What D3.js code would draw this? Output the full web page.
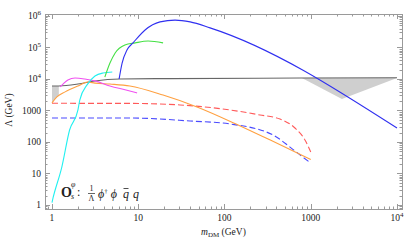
<!DOCTYPE html>
<html>
<head>
<meta charset="utf-8">
<script src="https://d3js.org/d3.v7.min.js"></script>
<style>
  body { margin: 0; background: #fff; }
  text { font-family: "Liberation Serif", "DejaVu Serif", serif; fill: #222; }
</style>
</head>
<body>
<div id="chart"></div>
<script>
// curves, [m_DM (GeV), Lambda (GeV)]
var blueSolid = [[6.0,1.0e4],[6.5,3.2e4],[7.4,8.3e4],[8.7,1.4e5],[12,3.6e5],[17.9,6.5e5],[26.7,7.4e5],[40,6.5e5],[68,4.2e5],[10000,277]];
var greenLine = [[4.1,1.15e4],[4.7,3.2e4],[5.4,6.7e4],[7.0,1.2e5],[9.2,1.4e5],[13,1.6e5],[19.4,1.4e5]];
var cyanLine = [[1.0,1.2],[1.03,1.7],[1.3,16],[1.6,240],[2.0,1040],[2.1,2150],[2.55,6500],[3.15,1.25e4],[3.9,1.55e4],[5.0,1.66e4]];
var magentaLine = [[1.24,5600],[1.34,6900],[1.53,9300],[1.85,1.07e4],[2.4,1.0e4],[3.15,8700],[4.7,6000],[7.4,4400],[9.7,3600]];
var orangeLine = [[1.0,1740],[1.14,2700],[1.42,3900],[2.0,6000],[2.6,8000],[3.15,7400],[4.7,6900],[8.0,6000],[19.4,3100],[48,1300],[150,330],[340,115],[1000,28]];
var redDashed = [[1,1690],[8,1680],[30.5,1500],[116,1040],[258,720],[440,537],[656,278],[857,116],[1000,48]];
var blueDashed = [[1,578],[8,578],[40,464],[116,373],[365,167],[575,69],[750,39],[1000,21.5]];
var darkLine = [[1,6000],[1.2,6000],[2.0,6900],[3.15,8650],[6.1,1.0e4],[23,1.03e4],[760,1.07e4],[10000,1.1e4]];
// shaded regions: lower edges under darkLine
var shadeLeft = [[1,1740],[1.1,2500],[1.2,3000]];
var shadeRight = [[790,1.07e4],[2300,2300],[10000,1.07e4]];

var xMajor = [1, 10, 100, 1000, 10000];
var xMajorLabels = ["1", "10", "100", "1000", "10^4"];
var yMajor = [1, 10, 100, 1000, 1e4, 1e5, 1e6];
var yMajorLabels = ["1", "10", "100", "1000", "10^4", "10^5", "10^6"];

var W = 409, H = 245;
var plotL = 45, plotR = 402, plotT = 14, plotB = 209;

var svg = d3.select("#chart").append("svg")
  .attr("width", W).attr("height", H);

var x = d3.scaleLog().domain([Math.pow(10, -0.081), Math.pow(10, 4.058)]).range([plotL, plotR]);
var y = d3.scaleLog().domain([Math.pow(10, -0.127), Math.pow(10, 6.063)]).range([plotB, plotT]);

var plot = svg.append("g");

var line = d3.line().x(function(d) { return x(d[0]); }).y(function(d) { return y(d[1]); }).curve(d3.curveMonotoneX);
var straight = d3.line().x(function(d) { return x(d[0]); }).y(function(d) { return y(d[1]); });

// upper value of dark line at m (log interpolation)
function darkAt(m) {
  for (var i = 0; i < darkLine.length - 1; i++) {
    var a = darkLine[i], b = darkLine[i + 1];
    if (m >= a[0] && m <= b[0]) {
      var t = (Math.log(m) - Math.log(a[0])) / (Math.log(b[0]) - Math.log(a[0]));
      return Math.exp(Math.log(a[1]) + t * (Math.log(b[1]) - Math.log(a[1])));
    }
  }
  return darkLine[darkLine.length - 1][1];
}

function shadePath(lower) {
  var upper = lower.map(function(d) { return [d[0], darkAt(d[0])]; }).reverse();
  return straight(lower.concat(upper)) + "Z";
}

plot.append("path").attr("d", shadePath(shadeLeft)).attr("fill", "#cfcfcf");
plot.append("path").attr("d", shadePath(shadeRight)).attr("fill", "#cfcfcf");

function drawCurve(data, color, dash) {
  plot.append("path")
    .datum(data)
    .attr("fill", "none")
    .attr("stroke", color)
    .attr("stroke-width", 1.1)
    .attr("stroke-dasharray", dash || null)
    .attr("d", line);
}

drawCurve(darkLine, "#666666");
drawCurve(redDashed, "#ff5a5a", "6,3");
drawCurve(blueDashed, "#4a4aff", "6,3");
drawCurve(orangeLine, "#ffa040");
drawCurve(magentaLine, "#f050f0");
drawCurve(cyanLine, "#22f0f0");
drawCurve(greenLine, "#44e044");
drawCurve(blueSolid, "#3030f0");

// frame
var frameColor = "#9a9a9a";
svg.append("rect")
  .attr("x", plotL + 0.5).attr("y", plotT + 0.5)
  .attr("width", plotR - plotL).attr("height", plotB - plotT)
  .attr("fill", "none").attr("stroke", frameColor).attr("stroke-width", 1);

// ticks on all four sides, pointing inward
var xMinor = [], yMinor = [];
[0.1, 1, 10, 100, 1000].forEach(function(dec) {
  for (var k = 2; k <= 9; k++) {
    var v = dec * k;
    if (v > x.domain()[0] && v < x.domain()[1]) xMinor.push(v);
  }
});
[0.1, 1, 10, 100, 1000, 1e4, 1e5, 1e6].forEach(function(dec) {
  for (var k = 2; k <= 9; k++) {
    var v = dec * k;
    if (v > y.domain()[0] && v < y.domain()[1]) yMinor.push(v);
  }
});

var ticks = svg.append("g").attr("stroke", frameColor).attr("stroke-width", 1);
function xTick(v, len) {
  var px = Math.round(x(v)) + 0.5;
  ticks.append("line").attr("x1", px).attr("x2", px).attr("y1", plotB).attr("y2", plotB - len);
  ticks.append("line").attr("x1", px).attr("x2", px).attr("y1", plotT).attr("y2", plotT + len);
}
function yTick(v, len) {
  var py = Math.round(y(v)) + 0.5;
  ticks.append("line").attr("y1", py).attr("y2", py).attr("x1", plotL).attr("x2", plotL + len);
  ticks.append("line").attr("y1", py).attr("y2", py).attr("x1", plotR).attr("x2", plotR - len);
}
xMajor.forEach(function(v) { xTick(v, 5); });
xMinor.forEach(function(v) { xTick(v, 2.5); });
yMajor.forEach(function(v) { yTick(v, 5); });
yMinor.forEach(function(v) { yTick(v, 2.5); });

function powLabel(sel, s) {
  var parts = s.split("^");
  sel.append("tspan").text(parts[0]);
  if (parts.length > 1) sel.append("tspan").attr("dy", -4).attr("font-size", 7).text(parts[1]);
}

xMajor.forEach(function(v, i) {
  var t = svg.append("text")
    .attr("x", x(v)).attr("y", 221)
    .attr("text-anchor", "middle")
    .attr("font-size", 9.5);
  powLabel(t, xMajorLabels[i]);
});
yMajor.forEach(function(v, i) {
  var t = svg.append("text")
    .attr("x", 41).attr("y", y(v) + 3.5)
    .attr("text-anchor", "end")
    .attr("font-size", 9.5);
  powLabel(t, yMajorLabels[i]);
});

// axis titles
var xt = svg.append("text").attr("x", 201).attr("y", 235).attr("font-size", 9.5);
xt.append("tspan").attr("font-style", "italic").text("m");
xt.append("tspan").attr("dy", 2).attr("font-size", 7).text("DM");
xt.append("tspan").attr("dy", -2).text(" (GeV)");

svg.append("text")
  .attr("transform", "translate(12,110) rotate(-90)")
  .attr("text-anchor", "middle")
  .attr("font-size", 9.5)
  .text("Λ (GeV)");

// operator label
var op = svg.append("g");
op.append("text").attr("x", 61).attr("y", 197).attr("font-size", 14).attr("font-weight", "bold").text("O");
op.append("text").attr("x", 71).attr("y", 199).attr("font-size", 8).attr("font-style", "italic").text("s");
op.append("text").attr("x", 71).attr("y", 187).attr("font-size", 8).attr("font-style", "italic").text("φ");
op.append("text").attr("x", 77).attr("y", 196).attr("font-size", 12).text(":");
op.append("text").attr("x", 91.5).attr("y", 191).attr("font-size", 8).attr("text-anchor", "middle").text("1");
op.append("line").attr("x1", 88).attr("x2", 95).attr("y1", 193.5).attr("y2", 193.5).attr("stroke", "#222").attr("stroke-width", 0.7);
op.append("text").attr("x", 91.5).attr("y", 201).attr("font-size", 8).attr("text-anchor", "middle").text("Λ");
var ph = op.append("text").attr("x", 98).attr("y", 198).attr("font-size", 12).attr("font-style", "italic");
ph.append("tspan").text("ϕ");
ph.append("tspan").attr("dy", -5).attr("font-size", 7).attr("font-style", "normal").text("†");
ph.append("tspan").attr("dy", 5).text(" ϕ");
op.append("text").attr("x", 123).attr("y", 198).attr("font-size", 12).attr("font-style", "italic").text("q");
op.append("line").attr("x1", 123.5).attr("x2", 128.5).attr("y1", 188.5).attr("y2", 188.5).attr("stroke", "#222").attr("stroke-width", 0.8);
op.append("text").attr("x", 133).attr("y", 198).attr("font-size", 12).attr("font-style", "italic").text("q");
</script>
</body>
</html>
